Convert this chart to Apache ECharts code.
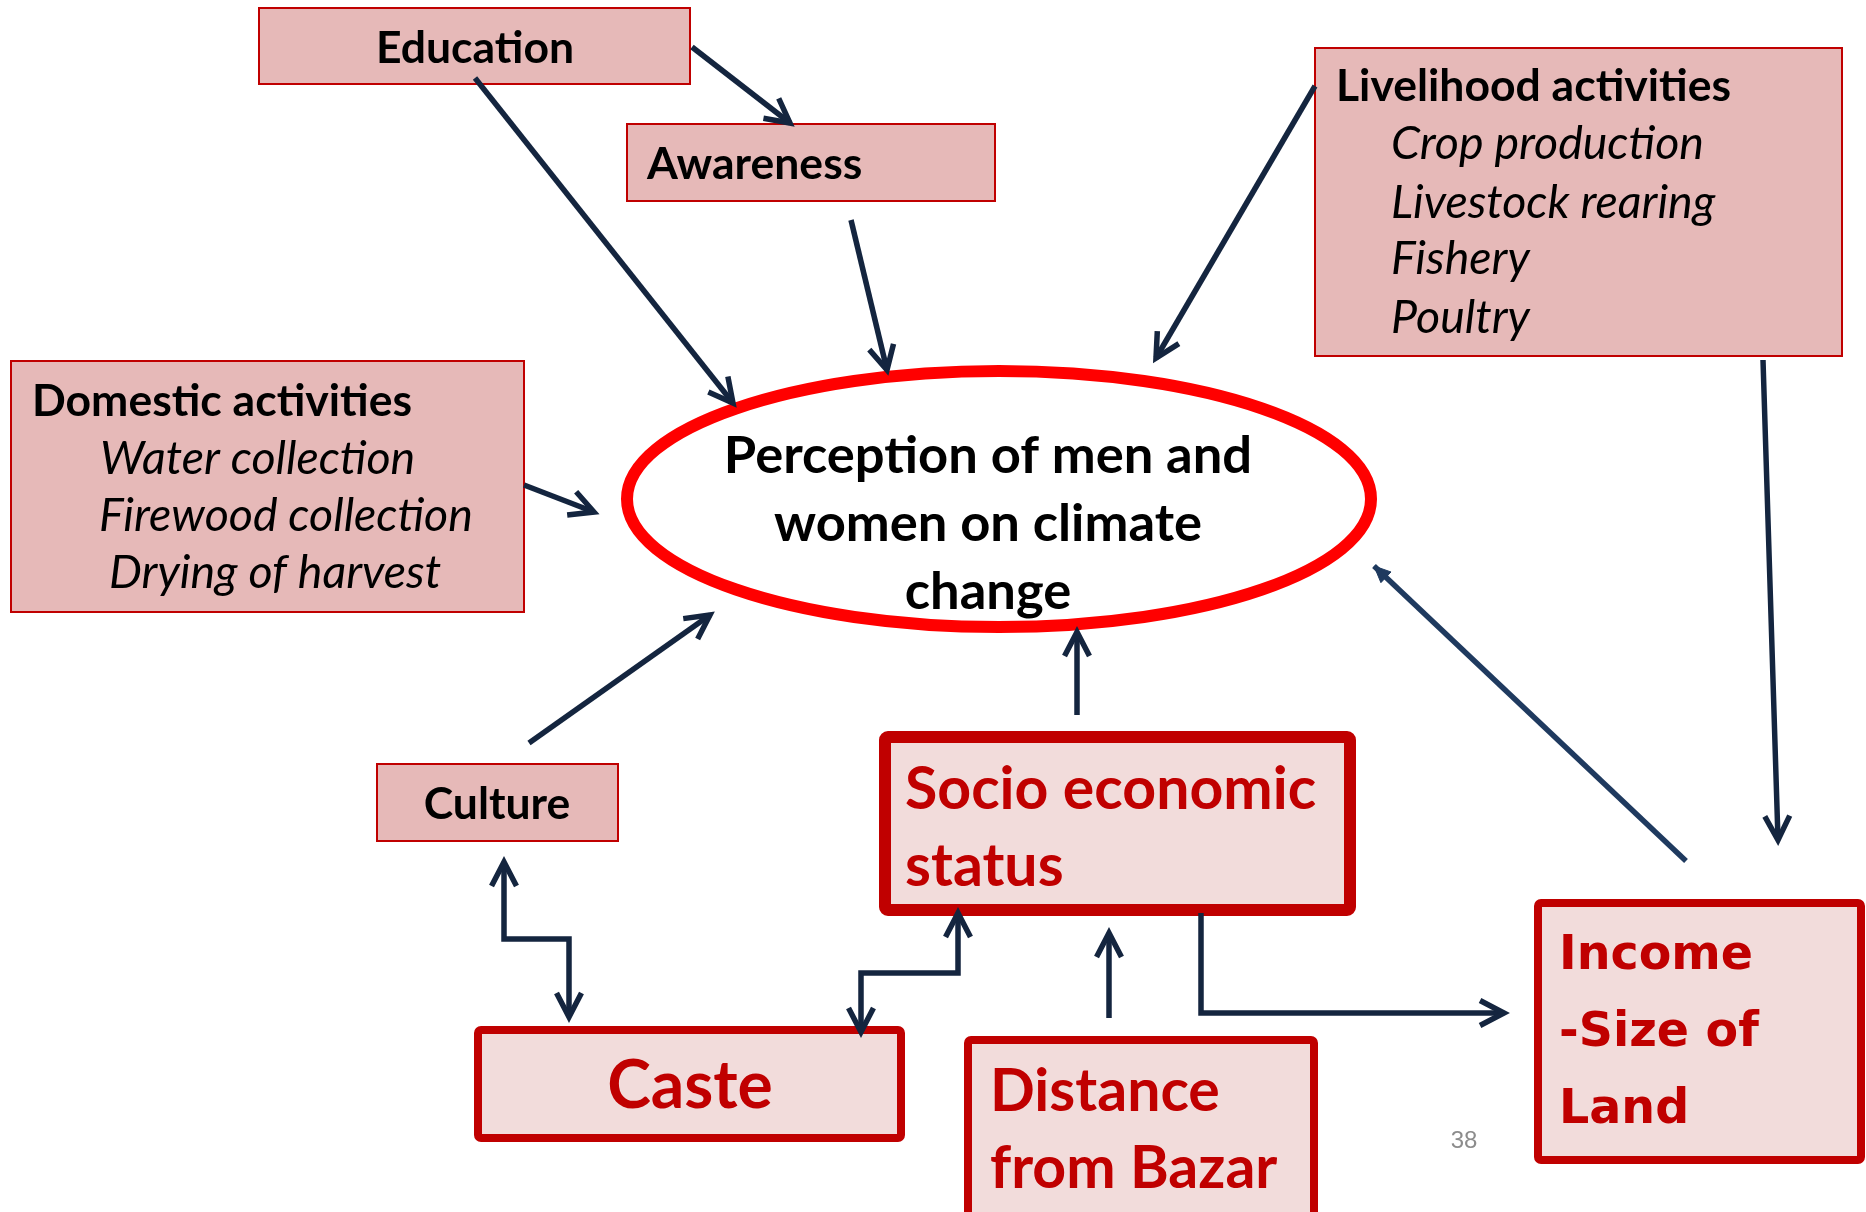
<!DOCTYPE html>
<html lang="en">
<head>
  <meta charset="UTF-8">
  <title>Perception of climate change</title>
  <style>
    body{
      margin: 0;
      background: white;
    }
    .chart{
      width: 1866px;
      height: 1212px;
    }
  </style>
</head>
<body>
<div class="chart"></div>
<script src="https://cdn.jsdelivr.net/npm/echarts@6/dist/echarts.min.js"></script>
<script>
  // the slide is laid on a hidden value grid, 0..1866 across and 0..1212 down

  // boxes: [left, top, right, bottom], heavy = thick red frame
  const boxNames = ['Education', 'Awareness', 'Livelihood activities', 'Domestic activities', 'Culture',
                    'Socio economic status', 'Caste', 'Distance from Bazar', 'Income'];
  const boxRects = [
    [259, 8, 690, 84],
    [627, 124, 995, 201],
    [1315, 48, 1842, 356],
    [11, 361, 524, 612],
    [377, 764, 618, 841],
    [885, 737, 1350, 910],
    [478, 1030, 901, 1138],
    [968, 1040, 1314, 1240],
    [1538, 903, 1861, 1160]
  ];
  const boxHeavy = [false, false, false, false, false, true, true, true, true];

  // the central ellipse: [cx, cy, rx, ry]
  const focus = [999, 499, 372, 128];

  // texts: anchor x, baseline y
  const labelTexts = [
    'Education', 'Awareness',
    'Livelihood activities', 'Crop production', 'Livestock rearing', 'Fishery', 'Poultry',
    'Domestic activities', 'Water collection', 'Firewood collection', 'Drying of harvest',
    'Perception of men and', 'women on climate', 'change',
    'Culture', 'Socio economic', 'status', 'Caste', 'Distance', 'from Bazar',
    'Income', '-Size of', 'Land', '38'
  ];
  const labelAt = [
    [475, 62], [647, 178],
    [1336, 100], [1391, 158], [1391, 217], [1391, 273], [1391, 332],
    [32, 415], [100, 473], [99, 530], [109, 587],
    [988, 472], [988, 540], [988, 608],
    [497, 818], [905, 808], [905, 885], [690, 1107], [990, 1110], [990, 1187],
    [1559, 972], [1559, 1049], [1559, 1126], [1464, 1149]
  ];
  const labelKind = [
    'headC', 'head',
    'head', 'item', 'item', 'item', 'item',
    'head', 'item', 'item', 'item',
    'focus', 'focus', 'focus',
    'headC', 'red', 'red', 'caste', 'red', 'red',
    'income', 'income', 'income', 'page'
  ];

  // arrows: polyline points, heads at 'end' or 'both'
  const arrowPaths = [
    [[692, 47], [790, 123]],
    [[475, 78], [733, 403]],
    [[851, 220], [887, 370]],
    [[1315, 86], [1156, 358]],
    [[524, 485], [594, 512]],
    [[529, 743], [710, 615]],
    [[1077, 715], [1077, 632]],
    [[1763, 360], [1778, 840]],
    [[1686, 861], [1374, 566]],
    [[1201, 913], [1201, 1013], [1504, 1013]],
    [[1109, 1018], [1109, 933]],
    [[504, 862], [504, 939], [569, 939], [569, 1017]],
    [[861, 1032], [861, 973], [958, 973], [958, 913]]
  ];
  const arrowHeads = ['end', 'end', 'end', 'end', 'end', 'end', 'end', 'end', 'filled', 'end', 'end', 'both', 'both'];

  const RED = '#C00000';
  const NAVY = '#14253F';

  const fonts = {
    head:   {font: 'bold 44.5px Lato', fill: '#000', align: 'left', k: 0.30},
    headC:  {font: 'bold 44.5px Lato', fill: '#000', align: 'center', k: 0.30},
    item:   {font: 'italic 46.5px Lato', fill: '#000', align: 'left', k: 0.30},
    focus:  {font: 'bold 52.5px Lato', fill: '#000', align: 'center', k: 0.30},
    red:    {font: 'bold 59px Lato', fill: RED, align: 'left', k: 0.30},
    caste:  {font: 'bold 66px Lato', fill: RED, align: 'center', k: 0.30},
    income: {font: 'bold 47.5px "DejaVu Sans"', fill: RED, align: 'left', k: 0.33},
    page:   {font: '24px "Liberation Sans"', fill: '#8C8C8C', align: 'center', k: 0.33}
  };

  function arrowHead(tip, from, len, ang) {
    const dx = from[0] - tip[0], dy = from[1] - tip[1];
    const d = Math.sqrt(dx * dx + dy * dy);
    const ux = dx / d, uy = dy / d;
    const c = Math.cos(ang), s = Math.sin(ang);
    return [
      [tip[0] + len * (ux * c - uy * s), tip[1] + len * (ux * s + uy * c)],
      tip,
      [tip[0] + len * (ux * c + uy * s), tip[1] + len * (-ux * s + uy * c)]
    ];
  }

  const container = document.querySelector('.chart');
  const instance = echarts.init(container);
  const option = {
    animation: false,
    grid: {left: 0, right: 0, top: 0, bottom: 0},
    xAxis: {type: 'value', min: 0, max: 1866, show: false},
    yAxis: {type: 'value', min: 0, max: 1212, inverse: true, show: false},
    series: [
      {
        type: 'custom',
        name: 'boxes',
        silent: true,
        data: boxRects.map((r, i) => [r[0], r[1], r[2], r[3], i]),
        renderItem(params, api) {
          const i = api.value(4);
          const p0 = api.coord([api.value(0), api.value(1)]);
          const p1 = api.coord([api.value(2), api.value(3)]);
          const heavy = boxHeavy[i];
          const lw = i === 5 ? 12 : (heavy ? 8 : 2);
          return {
            type: 'rect',
            shape: {x: p0[0], y: p0[1], width: p1[0] - p0[0], height: p1[1] - p0[1], r: heavy ? 3 : 0},
            style: {fill: heavy ? '#F2DCDB' : '#E6B9B8', stroke: RED, lineWidth: lw}
          };
        }
      },
      {
        type: 'custom',
        name: 'focus',
        silent: true,
        data: [focus],
        renderItem(params, api) {
          const c = api.coord([api.value(0), api.value(1)]);
          const e = api.coord([api.value(0) + api.value(2), api.value(1) + api.value(3)]);
          return {
            type: 'ellipse',
            shape: {cx: c[0], cy: c[1], rx: e[0] - c[0], ry: e[1] - c[1]},
            style: {fill: '#fff', stroke: '#FF0000', lineWidth: 12}
          };
        }
      },
      {
        type: 'custom',
        name: 'arrows',
        silent: true,
        data: arrowPaths.map((p, i) => [p[0][0], p[0][1], i]),
        renderItem(params, api) {
          const i = api.value(2);
          const pts = arrowPaths[i].map(p => api.coord(p));
          const n = pts.length;
          const kind = arrowHeads[i];
          const color = kind === 'filled' ? '#1F3A5F' : NAVY;
          const children = [{
            type: 'polyline',
            shape: {points: pts},
            style: {stroke: color, lineWidth: 5.5, fill: null}
          }];
          if (kind === 'filled') {
            children.push({
              type: 'polygon',
              shape: {points: arrowHead(pts[n - 1], pts[n - 2], 18, 0.42)},
              style: {fill: color, stroke: color, lineWidth: 1}
            });
          } else {
            children.push({
              type: 'polyline',
              shape: {points: arrowHead(pts[n - 1], pts[n - 2], 27, 0.48)},
              style: {stroke: color, lineWidth: 5.5, fill: null, lineJoin: 'miter'}
            });
            if (kind === 'both') {
              children.push({
                type: 'polyline',
                shape: {points: arrowHead(pts[0], pts[1], 27, 0.48)},
                style: {stroke: color, lineWidth: 5.5, fill: null, lineJoin: 'miter'}
              });
            }
          }
          return {type: 'group', children: children};
        }
      },
      {
        type: 'custom',
        name: 'labels',
        silent: true,
        data: labelAt.map((p, i) => [p[0], p[1], i]),
        renderItem(params, api) {
          const i = api.value(2);
          const f = fonts[labelKind[i]];
          const size = parseFloat(f.font.match(/([\d.]+)px/)[1]);
          const p = api.coord([api.value(0), api.value(1)]);
          return {
            type: 'text',
            x: p[0],
            y: p[1] - f.k * size,
            style: {
              text: labelTexts[i],
              font: f.font,
              fill: f.fill,
              align: f.align,
              verticalAlign: 'middle'
            }
          };
        }
      }
    ]
  };
  instance.setOption(option);
</script>
</body>
</html>
